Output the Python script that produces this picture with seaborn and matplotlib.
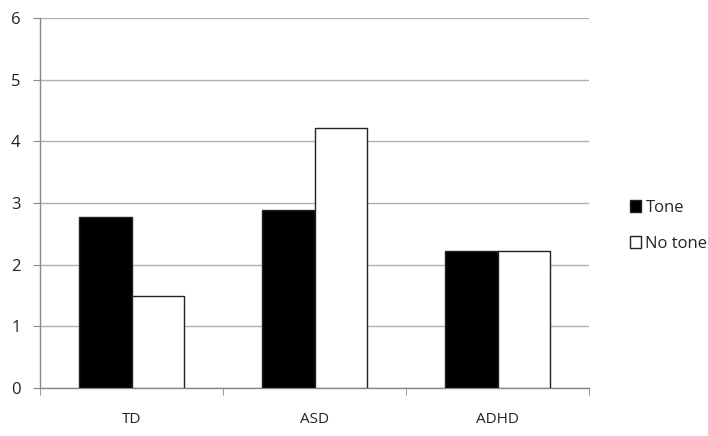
import seaborn as sns
import matplotlib.pyplot as plt
import pandas as pd

groups = ['TD', 'ASD', 'ADHD']
conditions = ['Tone', 'No tone']
tone = [2.78, 2.89, 2.22]
no_tone = [1.50, 4.22, 2.22]

df = pd.DataFrame({
    'group': groups * 2,
    'condition': ['Tone'] * 3 + ['No tone'] * 3,
    'value': tone + no_tone,
})

sns.set_style('white')
plt.rcParams['font.family'] = ['Open Sans', 'DejaVu Sans']

fig = plt.figure(figsize=(7.08, 4.36), dpi=100)
ax = fig.add_axes([40 / 708, 48 / 436, 549 / 708, 370 / 436])

sns.barplot(data=df, x='group', y='value', hue='condition',
            hue_order=conditions, palette=['black', 'white'],
            edgecolor='#222222', linewidth=1, width=0.57, ax=ax,
            zorder=3)

ax.set_ylim(0, 6)
ax.set_xlim(-0.5, 2.5)
ax.set_yticks(range(0, 7))
ax.yaxis.grid(True, color='#b0b0b0', linewidth=1, zorder=0)
ax.set_axisbelow(True)
ax.set_xlabel('')
ax.set_ylabel('')

for side in ['top', 'right']:
    ax.spines[side].set_visible(False)
for side in ['left', 'bottom']:
    ax.spines[side].set_color('#888888')
    ax.spines[side].set_linewidth(1)

ax.tick_params(axis='y', length=5, color='#888888', left=True,
               labelsize=12, pad=9, labelcolor='#222222')
ax.tick_params(axis='x', which='major', length=0, labelsize=11,
               pad=17, labelcolor='#222222')
ax.set_xticks([-0.5, 0.5, 1.5, 2.5], minor=True)
ax.tick_params(axis='x', which='minor', length=5, color='#888888',
               bottom=True)

handles, labels = ax.get_legend_handles_labels()
ax.legend(handles, labels, loc='center left',
          bbox_to_anchor=(0.868, 0.482), bbox_transform=fig.transFigure,
          frameon=False, fontsize=12, handlelength=0.7,
          handleheight=0.7, handletextpad=0.25, labelspacing=1.2)

plt.savefig('out.png', dpi=100)
